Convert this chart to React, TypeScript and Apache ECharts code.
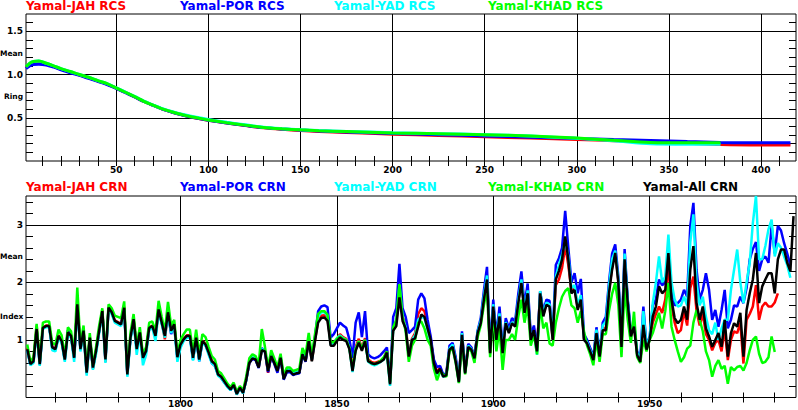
import React, { useEffect, useRef } from "react";
import * as echarts from "echarts";

// ---------------- DATA ----------------
const YEAR_START = 1751;

const crnJAH = [
  0.86,0.60,0.65,1.25,0.60,1.22,1.25,1.25,0.88,0.85,
  1.08,1.00,0.68,1.15,1.08,0.70,1.63,0.86,1.17,0.45,
  1.05,0.50,0.82,1.18,1.52,0.62,1.57,1.49,1.34,1.31,
  1.28,1.58,0.42,1.05,1.37,0.86,1.14,0.70,0.82,1.22,
  1.25,1.08,1.55,1.31,1.01,1.47,1.14,1.28,0.72,0.93,
  1.02,1.08,1.08,0.70,1.05,0.67,0.99,0.93,0.79,0.64,
  0.59,0.41,0.37,0.29,0.21,0.15,0.23,0.08,0.18,0.09,
  0.31,0.61,0.69,0.67,0.53,0.83,0.81,0.43,0.73,0.61,
  0.47,0.70,0.33,0.47,0.47,0.41,0.43,0.44,0.76,0.64,
  0.99,0.64,0.99,1.34,1.42,1.43,1.38,0.94,0.92,1.02,
  1.10,1.05,1.02,0.88,0.50,0.88,1.02,0.86,1.03,0.66,
  0.62,0.60,0.62,0.64,0.68,0.82,0.25,1.22,1.32,1.86,
  1.40,1.25,0.72,1.02,1.12,1.45,1.55,1.50,1.28,1.02,
  0.62,0.44,0.52,0.38,0.40,0.85,0.92,0.66,0.29,1.10,
  0.44,0.92,0.86,0.70,1.14,1.32,1.75,2.10,0.78,1.60,
  1.02,1.45,0.78,1.32,1.14,1.31,1.26,1.67,2.03,1.50,
  1.84,1.02,1.20,0.82,1.84,1.44,1.64,1.60,1.02,1.95,
  2.05,2.25,2.63,2.30,1.85,1.92,1.56,1.74,1.02,0.98,
  0.84,0.68,1.15,0.73,1.20,1.20,1.85,2.26,2.55,2.02,
  0.90,2.44,1.67,1.08,1.25,0.76,0.64,1.30,0.85,1.02,
  1.30,1.45,1.58,1.47,1.70,2.30,1.60,1.30,1.12,1.17,
  1.50,1.25,1.90,2.10,1.50,1.25,1.45,1.10,1.00,0.82,
  0.95,1.00,0.80,1.20,0.65,1.00,1.15,1.12,1.30,0.59,
  1.35,1.45,1.58,1.95,1.35,1.58,1.65,1.58,1.58,1.65,
  1.81,
];

const crnPOR = [
  0.83,0.57,0.62,1.18,0.57,1.20,1.23,1.23,0.86,0.83,
  1.06,0.97,0.65,1.17,1.06,0.68,1.60,0.83,1.15,0.42,
  1.03,0.51,0.80,1.15,1.49,0.65,1.55,1.47,1.32,1.29,
  1.26,1.54,0.39,1.03,1.35,0.82,1.12,0.67,0.80,1.20,
  1.23,1.06,1.52,1.29,1.12,1.46,1.10,1.26,0.66,0.90,
  1.00,1.06,1.06,0.66,1.03,0.63,0.97,0.91,0.77,0.60,
  0.55,0.40,0.34,0.26,0.19,0.13,0.21,0.06,0.16,0.08,
  0.29,0.60,0.67,0.65,0.51,0.86,0.79,0.44,0.71,0.58,
  0.43,0.68,0.31,0.44,0.44,0.39,0.41,0.42,0.74,0.62,
  1.00,0.66,1.05,1.50,1.58,1.60,1.57,1.04,1.10,1.20,
  1.30,1.25,1.21,1.01,0.69,1.30,1.48,1.05,1.50,0.75,
  0.70,0.68,0.70,0.74,0.80,0.87,0.30,1.40,1.55,2.32,
  1.55,1.40,1.12,1.17,1.23,1.70,1.81,1.72,1.35,1.06,
  0.66,0.53,0.55,0.40,0.42,0.90,0.95,0.70,0.30,1.15,
  0.45,0.93,0.87,0.71,1.16,1.38,1.85,2.27,0.84,1.70,
  1.08,1.58,0.85,1.38,1.20,1.38,1.32,1.80,2.19,1.60,
  1.98,1.08,1.25,0.86,1.84,1.50,1.70,1.68,1.06,2.30,
  2.42,2.60,3.24,2.60,2.00,2.16,1.81,2.06,1.10,1.00,
  0.86,0.70,1.22,0.76,1.30,1.40,2.00,2.50,2.66,2.10,
  0.95,2.58,1.70,1.15,1.30,0.80,0.70,1.58,0.90,1.05,
  1.60,1.70,2.05,1.95,2.00,2.51,1.85,1.60,1.64,1.70,
  1.87,1.75,2.98,3.38,2.22,1.70,1.87,2.16,1.87,1.35,
  1.52,1.23,1.52,1.87,1.20,1.35,1.60,1.58,1.75,1.64,
  1.90,2.40,2.58,2.70,2.20,2.40,2.45,2.34,2.98,2.50,
  2.98,2.90,2.68,2.50,2.30,
];

const crnYAD = [
  0.82,0.56,0.60,1.16,0.55,1.19,1.22,1.22,0.82,0.80,
  1.04,0.95,0.62,1.10,1.04,0.62,1.58,0.80,1.12,0.38,
  1.01,0.48,0.76,1.13,1.47,0.60,1.53,1.45,1.30,1.27,
  1.24,1.52,0.36,1.00,1.33,0.74,1.10,0.56,0.74,1.18,
  1.21,0.98,1.50,1.27,1.04,1.44,1.12,1.24,0.62,0.86,
  0.98,1.04,1.04,0.64,1.01,0.63,0.95,0.90,0.74,0.60,
  0.55,0.38,0.34,0.26,0.18,0.13,0.21,0.05,0.16,0.07,
  0.30,0.64,0.70,0.68,0.54,0.84,0.82,0.48,0.74,0.63,
  0.49,0.72,0.35,0.49,0.49,0.43,0.44,0.45,0.78,0.66,
  1.02,0.66,1.02,1.40,1.48,1.48,1.42,0.92,0.94,1.03,
  1.08,1.03,1.00,0.86,0.44,0.84,0.98,0.84,1.00,0.62,
  0.58,0.56,0.58,0.62,0.66,0.76,0.20,1.18,1.28,1.95,
  1.38,1.22,0.68,1.00,1.08,1.35,1.40,1.38,1.18,0.96,
  0.55,0.40,0.48,0.36,0.38,0.85,0.92,0.64,0.27,1.12,
  0.43,0.90,0.84,0.69,1.14,1.33,1.76,2.12,0.80,1.62,
  1.03,1.46,0.79,1.31,1.13,1.31,1.26,1.68,2.05,1.50,
  1.86,1.02,1.12,0.74,1.85,1.45,1.65,1.62,1.04,2.10,
  2.30,2.48,2.72,2.45,1.90,1.95,1.60,1.78,1.04,0.96,
  0.82,0.68,1.18,0.74,1.25,1.32,1.92,2.40,2.55,2.05,
  0.92,2.50,1.68,1.10,1.28,0.78,0.66,1.50,0.88,1.04,
  1.64,2.00,2.45,2.00,2.10,2.83,2.00,1.70,1.58,1.60,
  1.75,1.60,2.70,3.18,2.00,1.60,1.75,1.40,1.17,1.10,
  1.30,1.00,1.20,1.35,1.35,1.87,2.22,2.57,2.00,1.64,
  2.00,2.34,3.03,3.50,2.40,2.40,2.63,2.92,3.09,2.45,
  2.68,2.60,2.45,2.30,2.08,
];

const crnKHAD = [
  0.92,0.62,0.70,1.28,0.62,1.30,1.32,1.32,0.95,0.92,
  1.18,1.08,0.72,1.22,1.15,0.75,1.91,0.92,1.25,0.48,
  1.12,0.55,0.88,1.25,1.55,0.70,1.62,1.55,1.42,1.40,
  1.38,1.67,0.44,1.12,1.45,0.90,1.22,0.74,0.88,1.30,
  1.32,1.15,1.68,1.40,1.15,1.66,1.25,1.35,0.76,1.00,
  1.10,1.18,1.18,0.78,1.18,0.75,1.10,1.05,0.88,0.72,
  0.66,0.46,0.42,0.33,0.24,0.18,0.26,0.10,0.20,0.12,
  0.36,0.68,0.75,0.72,0.58,1.19,0.88,0.52,0.82,0.68,
  0.52,0.76,0.38,0.52,0.52,0.46,0.48,0.50,0.86,0.74,
  1.12,0.72,1.10,1.45,1.50,1.50,1.44,0.96,0.96,1.02,
  1.06,1.02,1.00,0.86,0.50,0.84,0.98,0.84,1.00,0.64,
  0.60,0.58,0.60,0.64,0.70,0.80,0.26,1.22,1.35,1.97,
  1.40,1.15,0.62,0.90,1.00,1.30,1.32,1.20,1.00,0.90,
  0.50,0.30,0.45,0.40,0.36,0.80,0.85,0.60,0.25,1.00,
  0.40,0.85,0.80,0.60,1.05,1.25,1.60,1.90,0.70,1.45,
  0.80,1.20,0.48,1.00,1.00,1.10,1.00,1.40,1.70,1.30,
  1.60,0.90,1.10,0.75,1.60,1.20,1.30,0.94,0.90,1.30,
  1.55,1.75,1.85,1.90,1.60,1.55,1.30,1.50,1.15,0.90,
  0.75,0.56,1.00,0.62,1.10,1.10,1.50,1.80,1.99,1.60,
  0.70,1.90,1.35,0.95,1.49,0.70,0.60,1.00,0.80,1.00,
  1.12,1.30,1.47,1.20,1.50,1.99,1.23,1.00,0.80,0.62,
  0.70,0.85,0.90,1.30,1.52,1.35,1.15,0.80,0.65,0.36,
  0.55,0.65,0.50,0.55,0.24,0.53,0.47,0.53,0.55,0.47,
  0.60,0.82,1.00,1.06,0.76,0.60,0.62,0.70,1.06,0.79,
];

const crnAll = [
  0.84,0.58,0.63,1.19,0.58,1.21,1.24,1.24,0.87,0.84,
  1.07,0.98,0.66,1.13,1.07,0.69,1.62,0.84,1.16,0.43,
  1.04,0.52,0.81,1.16,1.50,0.66,1.56,1.48,1.33,1.30,
  1.27,1.56,0.40,1.04,1.36,0.84,1.13,0.69,0.81,1.21,
  1.24,1.07,1.53,1.30,1.07,1.48,1.16,1.27,0.70,0.92,
  1.01,1.07,1.07,0.69,1.04,0.66,0.98,0.92,0.78,0.63,
  0.58,0.40,0.36,0.28,0.20,0.14,0.22,0.06,0.17,0.08,
  0.30,0.60,0.68,0.66,0.52,0.82,0.80,0.46,0.72,0.60,
  0.46,0.69,0.32,0.46,0.46,0.40,0.42,0.43,0.75,0.63,
  0.98,0.63,0.98,1.30,1.38,1.39,1.33,0.90,0.90,0.98,
  1.04,1.00,0.98,0.84,0.46,0.81,0.95,0.81,0.98,0.63,
  0.60,0.58,0.60,0.62,0.66,0.78,0.23,1.16,1.24,1.74,
  1.33,1.20,0.71,1.00,1.03,1.23,1.44,1.40,1.20,1.00,
  0.60,0.42,0.50,0.36,0.39,0.83,0.88,0.62,0.27,1.09,
  0.42,0.88,0.83,0.68,1.12,1.29,1.70,2.05,0.77,1.58,
  1.00,1.41,0.77,1.29,1.12,1.29,1.23,1.64,1.99,1.47,
  1.81,1.00,1.17,0.80,1.81,1.41,1.61,1.58,1.00,2.05,
  2.20,2.40,2.80,2.40,1.81,1.87,1.52,1.70,1.00,0.94,
  0.80,0.65,1.12,0.71,1.17,1.17,1.81,2.22,2.51,1.99,
  0.88,2.40,1.64,1.06,1.23,0.74,0.62,1.26,0.83,1.00,
  1.41,1.58,1.93,1.81,1.87,2.51,1.70,1.38,1.29,1.35,
  1.58,1.35,2.22,2.63,1.64,1.35,1.58,1.20,1.06,0.88,
  1.00,1.12,0.88,1.35,0.71,1.12,1.29,1.23,1.47,0.71,
  1.52,1.81,2.05,2.51,1.64,1.93,2.05,2.16,2.16,1.81,
  2.40,2.57,2.57,2.34,2.19,3.15,
];

// RCS curves: ring age and mean ring width
const rcsAges = [1,3,5,8,12,16,20,25,30,35,40,45,50,55,60,65,70,75,80,85,90,95,100,110,120,130,140,150,160,175,200,225,250,275,300,320,340,360,378,400,416];
const rcsJAH = [1.08,1.12,1.14,1.15,1.125,1.095,1.062,1.03,0.995,0.962,0.925,0.89,0.842,0.792,0.742,0.688,0.643,0.60,0.567,0.537,0.512,0.49,0.47,0.438,0.41,0.383,0.366,0.353,0.342,0.33,0.31,0.296,0.28,0.265,0.25,0.235,0.22,0.205,0.19,0.185,0.185];
const rcsPOR = [1.07,1.10,1.115,1.12,1.11,1.085,1.055,1.02,0.99,0.955,0.92,0.885,0.84,0.79,0.74,0.688,0.643,0.60,0.567,0.537,0.512,0.492,0.472,0.44,0.412,0.386,0.37,0.358,0.348,0.336,0.318,0.305,0.29,0.275,0.26,0.248,0.238,0.225,0.215,0.21,0.21];
const rcsYAD = [1.09,1.13,1.15,1.156,1.13,1.10,1.068,1.035,1.0,0.968,0.93,0.895,0.846,0.797,0.747,0.692,0.647,0.605,0.572,0.543,0.52,0.50,0.48,0.447,0.418,0.39,0.374,0.362,0.352,0.342,0.327,0.316,0.305,0.288,0.262,0.235,0.20,0.195,0.195];
const rcsKHAD = [1.09,1.13,1.15,1.156,1.13,1.10,1.068,1.035,1.0,0.968,0.93,0.895,0.845,0.795,0.745,0.69,0.645,0.603,0.57,0.54,0.515,0.495,0.474,0.443,0.415,0.388,0.372,0.36,0.35,0.34,0.325,0.315,0.305,0.29,0.265,0.24,0.215,0.21,0.21];

const rcsNames = ["Yamal-JAH RCS", "Yamal-POR RCS", "Yamal-YAD RCS", "Yamal-KHAD RCS"];
const crnNames = ["Yamal-JAH CRN", "Yamal-POR CRN", "Yamal-YAD CRN", "Yamal-KHAD CRN", "Yamal-All CRN"];
const seriesColors = ["#ff0000", "#0000ff", "#00ffff", "#00ff00", "#000000"];

// tick labels
const topXTicks = [50, 100, 150, 200, 250, 300, 350, 400];
const topYTicks = [0.5, 1.0, 1.5];
const botXTicks = [1800, 1850, 1900, 1950];
const botYTicks = [1, 2, 3];

// ---------------- CHART ----------------
const FONT = '"DejaVu Sans", Verdana, sans-serif';

function steps(a: number, b: number, s: number): number[] {
  const out: number[] = [];
  const n = Math.round((b - a) / s);
  for (let i = 0; i <= n; i++) out.push(+(a + i * s).toFixed(4));
  return out;
}

const labelStyle = { color: "#000", fontSize: 9, fontWeight: "bold", fontFamily: FONT };

function makeX(grid: number, min: number, max: number, majors: number[], minors: number[], margin: number) {
  const base = { type: "value", gridIndex: grid, min, max, axisLine: { show: false } };
  return [
    {
      ...base,
      position: "bottom",
      axisTick: { show: false, customValues: majors },
      axisLabel: { show: true, customValues: majors, margin, ...labelStyle, formatter: (v: number) => String(v) },
      splitLine: { show: true, lineStyle: { color: "#000", width: 1 } },
    },
    {
      ...base,
      position: "bottom",
      axisTick: { show: true, inside: true, length: 5, customValues: minors, lineStyle: { color: "#000", width: 1 } },
      axisLabel: { show: false },
      splitLine: { show: false },
    },
    {
      ...base,
      position: "top",
      axisTick: { show: true, inside: true, length: 5, customValues: minors, lineStyle: { color: "#000", width: 1 } },
      axisLabel: { show: false },
      splitLine: { show: false },
    },
  ];
}

function makeY(grid: number, min: number, max: number, majors: number[], minors: number[], fmt: (v: number) => string) {
  const base = { type: "value", gridIndex: grid, min, max, axisLine: { show: false } };
  return [
    {
      ...base,
      position: "left",
      axisTick: { show: false, customValues: majors },
      axisLabel: { show: true, customValues: majors, margin: 3, ...labelStyle, formatter: fmt },
      splitLine: { show: true, lineStyle: { color: "#000", width: 1 } },
    },
    {
      ...base,
      position: "left",
      axisTick: { show: true, inside: true, length: 7, customValues: minors, lineStyle: { color: "#000", width: 1 } },
      axisLabel: { show: false },
      splitLine: { show: false },
    },
    {
      ...base,
      position: "right",
      axisTick: { show: true, inside: true, length: 7, customValues: minors, lineStyle: { color: "#000", width: 1 } },
      axisLabel: { show: false },
      splitLine: { show: false },
    },
  ];
}

function textEl(text: string, x: number, y: number, color: string, size: number) {
  return {
    type: "text",
    x,
    y,
    silent: true,
    style: {
      text, fill: color, fontSize: size, fontWeight: "bold", fontFamily: FONT,
      align: "left", verticalAlign: "middle",
    },
  };
}

export default function App() {
  const ref = useRef<HTMLDivElement>(null);

  useEffect(() => {
    if (!ref.current) return;
    const chart = echarts.init(ref.current, null, { renderer: "svg" });

    const rcsSets = [rcsJAH, rcsPOR, rcsYAD, rcsKHAD];
    const crnSets = [crnJAH, crnPOR, crnYAD, crnKHAD, crnAll];

    const series: any[] = [];
    rcsSets.forEach((vals, i) => {
      series.push({
        type: "line",
        name: rcsNames[i],
        xAxisIndex: 0,
        yAxisIndex: 0,
        data: vals.map((v, k) => [rcsAges[k], v]),
        showSymbol: false,
        smooth: 0.3,
        silent: true,
        lineStyle: { color: seriesColors[i], width: 3 },
        itemStyle: { color: seriesColors[i] },
      });
    });
    crnSets.forEach((vals, i) => {
      series.push({
        type: "line",
        name: crnNames[i],
        xAxisIndex: 3,
        yAxisIndex: 3,
        data: vals.map((v, k) => [YEAR_START + k, v]),
        showSymbol: false,
        silent: true,
        lineStyle: { color: seriesColors[i], width: 2.5 },
        itemStyle: { color: seriesColors[i] },
      });
    });

    const legendX = [26, 180, 334, 488, 643];
    const graphics: any[] = [];
    rcsNames.forEach((n, i) => graphics.push(textEl(n, legendX[i], 6, seriesColors[i], 12)));
    crnNames.forEach((n, i) => graphics.push(textEl(n, legendX[i], 187, seriesColors[i], 12)));
    graphics.push(textEl("Mean", 0, 53, "#000", 7.5));
    graphics.push(textEl("Ring", 4, 96, "#000", 7.5));
    graphics.push(textEl("Mean", 0, 256, "#000", 7.5));
    graphics.push(textEl("Index", 0, 316, "#000", 7.5));

    chart.setOption({
      animation: false,
      backgroundColor: "#ffffff",
      grid: [
        { left: 26, top: 14, right: 2, height: 147, show: true, borderColor: "#000", borderWidth: 1, backgroundColor: "transparent" },
        { left: 26, top: 196, right: 2, height: 201.5, show: true, borderColor: "#000", borderWidth: 1, backgroundColor: "transparent" },
      ],
      xAxis: [
        ...makeX(0, 1, 419, topXTicks, steps(10, 410, 10), 4),
        ...makeX(1, 1750.6, 1996.8, botXTicks, steps(1760, 1990, 10), 2),
      ],
      yAxis: [
        ...makeY(0, 0, 1.7, topYTicks, steps(0.1, 1.6, 0.1), (v: number) => v.toFixed(1)),
        ...makeY(1, 0, 3.5, botYTicks, steps(0.2, 3.4, 0.2), (v: number) => String(Math.round(v))),
      ],
      series,
      graphic: graphics,
    });

    return () => chart.dispose();
  }, []);

  return (
    <div
      ref={ref}
      style={{ position: "fixed", left: 0, top: 0, width: 798, height: 410, background: "#fff" }}
    />
  );
}
